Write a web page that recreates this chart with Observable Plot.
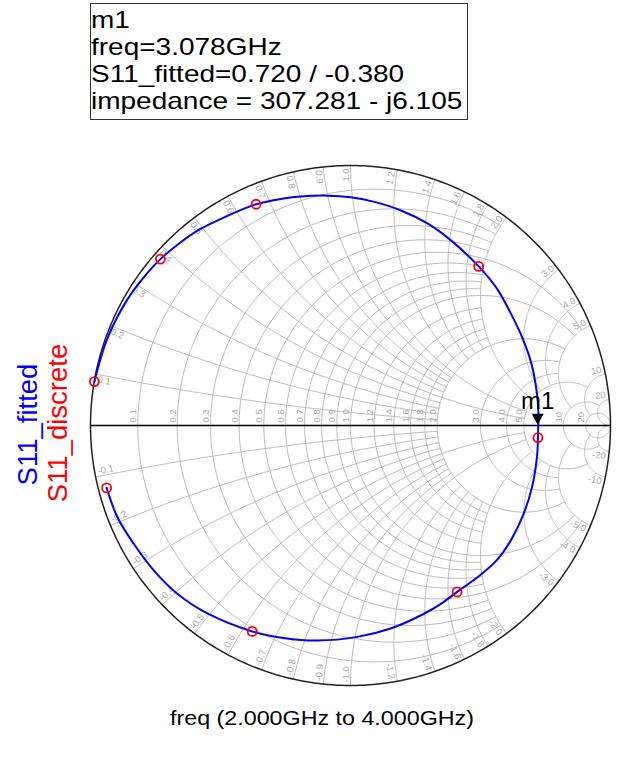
<!DOCTYPE html>
<html><head><meta charset="utf-8">
<script src="https://cdn.jsdelivr.net/npm/d3@7"></script>
<script src="https://cdn.jsdelivr.net/npm/@observablehq/plot@0.6"></script>
<style>
html,body{margin:0;padding:0;background:#fff;}
#wrap{position:relative;width:628px;height:772px;overflow:hidden;font-family:"Liberation Sans",Arial,sans-serif;color:#000;}
#chart{position:absolute;left:0;top:0;}
#box{position:absolute;left:90px;top:3px;width:376px;height:112.8px;border:1px solid #333;padding:2.2px 0 0 0;white-space:nowrap;}
#boxtext{font-size:24px;line-height:27px;transform:scaleX(1.1667);transform-origin:0 0;}
#caption{position:absolute;left:170px;top:707.2px;font-size:21px;line-height:21px;white-space:nowrap;transform:scaleX(1.108);transform-origin:0 0;}
#legend{position:absolute;left:0;top:0;}
</style></head>
<body><div id="wrap">
<div id="chart"></div>
<div id="box"><div id="boxtext"><div>m1</div><div>freq=3.078GHz</div><div>S11_fitted=0.720 / -0.380</div><div>impedance = 307.281 - j6.105</div></div></div>
<svg id="legend" width="90" height="772" font-family="Liberation Sans, Arial, sans-serif">
<text transform="translate(37,424.5) rotate(-90)" text-anchor="middle" fill="#0000ff" font-size="27.5">S11_fitted</text>
<text transform="translate(66.5,423) rotate(-90)" text-anchor="middle" fill="#ff0000" font-size="27.5">S11_discrete</text>
</svg>
<div id="caption">freq (2.000GHz to 4.000GHz)</div>
</div>
<script>
// ---- grid definition (Smith chart) ----
const gridValues = [0.1,0.2,0.3,0.4,0.5,0.6,0.7,0.8,0.9,1.0,1.2,1.4,1.6,1.8,2.0,3,4,5,10,20];
const gridLabels = ["0.1","0.2","0.3","0.4","0.5","0.6","0.7","0.8","0.9","1.0","1.2","1.4","1.6","1.8","2.0","3.0","4.0","5.0","10","20"];
const gridReach  = [2,2,2,2,5,2,2,2,2,5,2,2,2,2,5,5,5,10,20,Infinity];

// ---- S11_fitted trace (reflection coefficient, real / imaginary), 2 GHz -> 4 GHz ----
const fittedRe = [-0.985,-0.935,-0.858,-0.796,-0.731,-0.654,-0.577,-0.500,-0.363,-0.258,-0.192,-0.088,0.000,0.088,0.192,0.296,0.385,0.493,0.560,0.612,0.662,0.696,0.716,0.723,0.722,0.721,0.717,0.698,0.665,0.619,0.562,0.492,0.410,0.346,0.281,0.154,0.027,-0.127,-0.258,-0.378,-0.550,-0.665,-0.756,-0.833,-0.896,-0.938];
const fittedIm = [0.169,0.335,0.485,0.569,0.640,0.704,0.756,0.794,0.851,0.873,0.881,0.884,0.878,0.861,0.828,0.777,0.713,0.612,0.531,0.440,0.335,0.237,0.131,0.046,-0.005,-0.047,-0.123,-0.238,-0.342,-0.438,-0.519,-0.581,-0.640,-0.687,-0.725,-0.781,-0.813,-0.827,-0.817,-0.792,-0.723,-0.648,-0.558,-0.456,-0.354,-0.240];

// ---- S11_discrete samples ----
const discreteRe = [-0.985,-0.731,-0.363,0.493,0.721,0.410,-0.378,-0.938];
const discreteIm = [0.169,0.640,0.851,0.612,-0.047,-0.640,-0.792,-0.240];

// ---- marker m1 ----
const markerName = "m1";
const markerMag = 0.720;
const markerDeg = -0.380;

function gamma(r, x) { // z = r + jx  ->  (z-1)/(z+1)
  const a = r - 1, c = r + 1, den = c*c + x*x;
  return [(a*c + x*x)/den, (x*c - a*x)/den];
}

const gridPts = [];
const N = 140;
gridValues.forEach((r, i) => {
  const c = r/(1+r), rho = 1/(1+r), X = gridReach[i];
  let a0 = 0;
  if (isFinite(X)) { const g = gamma(r, X); a0 = Math.atan2(g[1], g[0]-c); }
  for (let k = 0; k <= N; k++) {
    const a = a0 + (2*Math.PI - 2*a0)*k/N;
    gridPts.push({id: "r"+i, re: c + rho*Math.cos(a), im: rho*Math.sin(a)});
  }
});
gridValues.forEach((v, i) => {
  const k = 1/v, Rm = gridReach[i];
  const g0 = gamma(0, v);
  const b0 = Math.atan2(g0[1]-k, g0[0]-1);
  const g1 = isFinite(Rm) ? gamma(Rm, v) : [1, 0];
  let b1 = Math.atan2(g1[1]-k, g1[0]-1);
  while (b1 < b0) b1 += 2*Math.PI;
  for (const s of [1, -1]) {
    for (let t = 0; t <= N; t++) {
      const b = b0 + (b1-b0)*t/N;
      gridPts.push({id: "x"+s+"_"+i, re: 1 + k*Math.cos(b), im: s*(k + k*Math.sin(b))});
    }
  }
});
const outer = d3.range(0, 361).map(d => ({re: Math.cos(d*Math.PI/180), im: Math.sin(d*Math.PI/180)}));

// resistance labels on the real axis
const rLab = gridValues.map((r, i) => ({re: (r-1)/(r+1), im: 0, t: gridLabels[i]}));

// reactance labels at the rim
const R = 260;
const xLab = [];
gridValues.forEach((v, i) => {
  for (const s of [1, -1]) {
    const th = s*(Math.PI - 2*Math.atan(v));
    let ph = th;
    while (ph > Math.PI/2 + 1e-9) ph -= Math.PI;
    while (ph <= -Math.PI/2 + 1e-9) ph += Math.PI;
    const inward = Math.cos(ph - (th + Math.PI)) > 0;
    const perp = s > 0 ? [-Math.sin(th), Math.cos(th)] : [Math.sin(th), -Math.cos(th)];
    const rr = 1 - 3/R, off = 5/R;
    xLab.push({
      re: rr*Math.cos(th) + off*perp[0],
      im: rr*Math.sin(th) + off*perp[1],
      t: (s < 0 ? "-" : "") + gridLabels[i],
      rot: -ph*180/Math.PI,
      anchor: inward ? "start" : "end"
    });
  }
});

const fitted = fittedRe.map((d, i) => ({re: d, im: fittedIm[i]}));
const discrete = discreteRe.map((d, i) => ({re: d, im: discreteIm[i]}));
const mk = [{re: markerMag*Math.cos(markerDeg*Math.PI/180), im: markerMag*Math.sin(markerDeg*Math.PI/180), t: markerName}];
const downTri = {draw(ctx) { ctx.moveTo(-6, -11); ctx.lineTo(6, -11); ctx.lineTo(0, 0); ctx.closePath(); }};

const labStyle = {fill: "#a9a9a9", fontSize: 9.5, fontFamily: "Liberation Sans, Arial, sans-serif"};

const plot = Plot.plot({
  width: 628, height: 772,
  marginTop: 0, marginRight: 0, marginBottom: 0, marginLeft: 0,
  x: {domain: [-1, 1], range: [90, 610], axis: null},
  y: {domain: [-1, 1], range: [685, 165], axis: null},
  style: {background: "transparent", fontFamily: "Liberation Sans, Arial, sans-serif"},
  marks: [
    Plot.line(gridPts, {x: "re", y: "im", z: "id", stroke: "#bcbcbc", strokeWidth: 1}),
    Plot.ruleY([0], {x1: -1, x2: 1, stroke: "#000", strokeWidth: 1.3}),
    Plot.line(outer, {x: "re", y: "im", stroke: "#222", strokeWidth: 1.5}),
    Plot.text(rLab, {x: "re", y: "im", text: "t", rotate: -90, textAnchor: "start", lineAnchor: "bottom", dx: -1.5, dy: -3, ...labStyle}),
    Plot.text(xLab.filter(d => d.anchor === "start"), {x: "re", y: "im", text: "t", rotate: "rot", textAnchor: "start", lineAnchor: "middle", ...labStyle}),
    Plot.text(xLab.filter(d => d.anchor === "end"), {x: "re", y: "im", text: "t", rotate: "rot", textAnchor: "end", lineAnchor: "middle", ...labStyle}),
    Plot.line(fitted, {x: "re", y: "im", stroke: "#0000ff", strokeWidth: 2, curve: "catmull-rom"}),
    Plot.dot(discrete, {x: "re", y: "im", r: 4.5, stroke: "#ff0000", strokeWidth: 1.8, fill: "none"}),
    Plot.dot(mk, {x: "re", y: "im", symbol: downTri, fill: "#000", stroke: "none", dy: -2}),
    Plot.text(mk, {x: "re", y: "im", text: "t", fontSize: 24, lineAnchor: "bottom", dy: -18, fill: "#000"})
  ]
});
document.getElementById("chart").appendChild(plot);
</script>
</body></html>
